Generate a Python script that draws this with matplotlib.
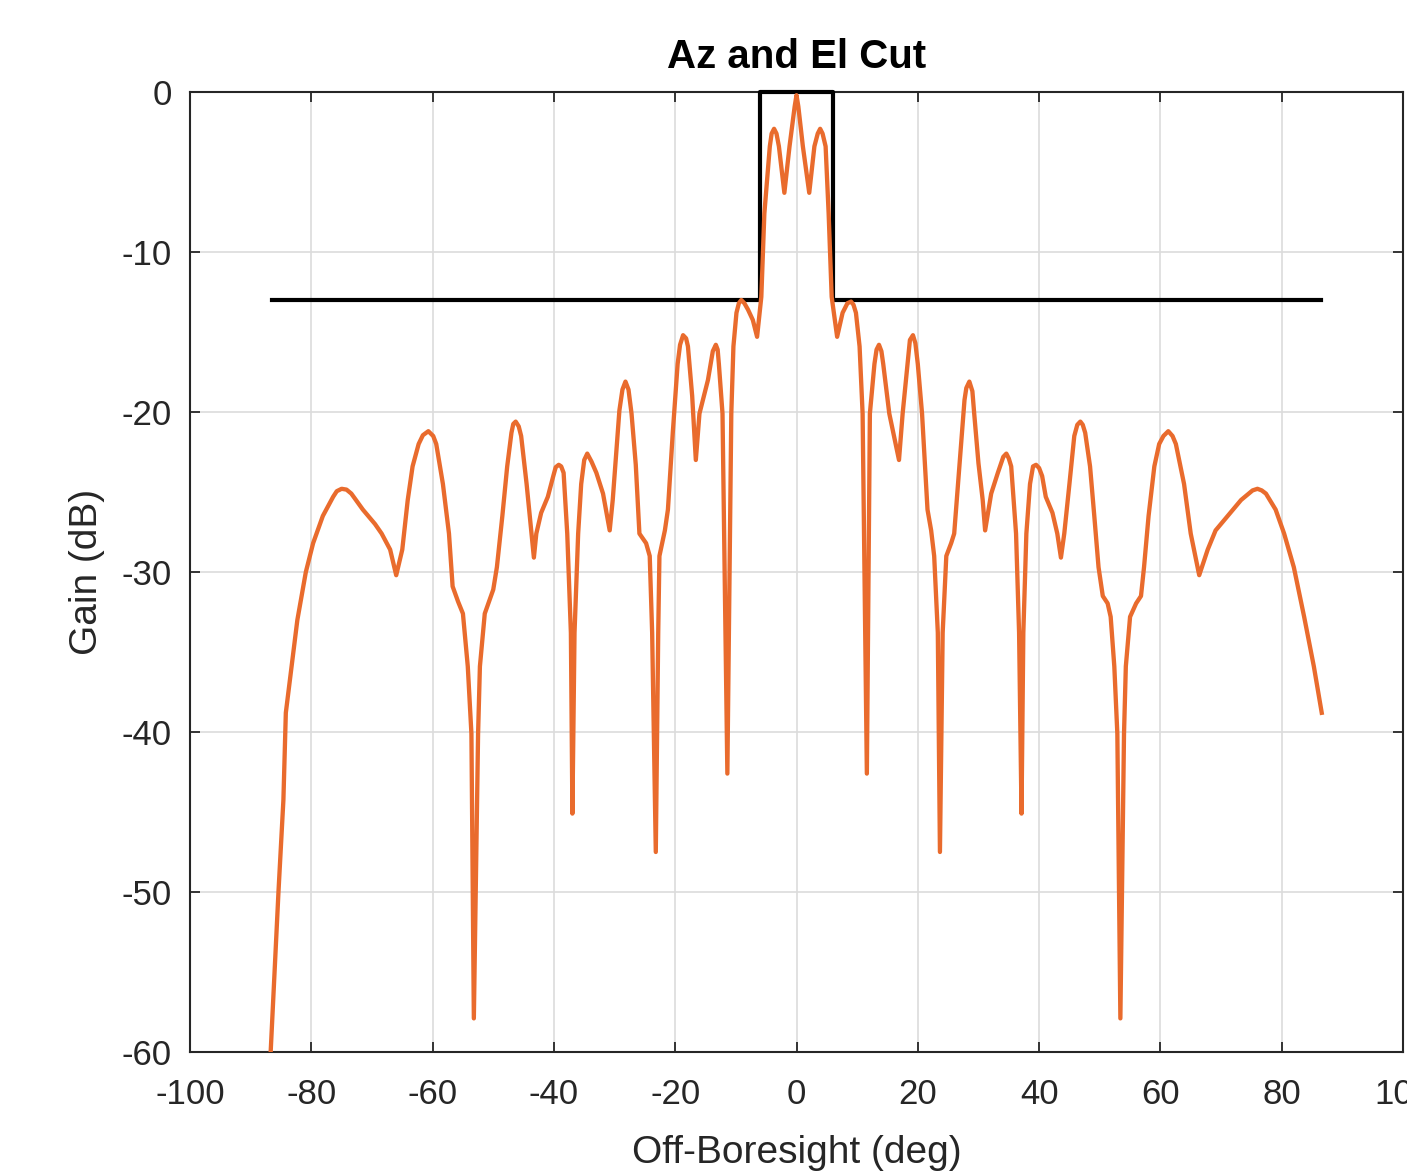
import matplotlib
matplotlib.use("Agg")
import matplotlib.pyplot as plt

# array pattern cut (deg, dB), left half then right half
ang_left = [-86.7, -85.4, -84.6, -84.2, -82.3, -80.9, -79.7, -78.1, -76.4, -75.8,
            -75.0, -74.2, -73.4, -71.5, -69.5, -68.4, -67.0, -66.0, -65.0, -64.1,
            -63.3, -62.3, -61.6, -60.7, -59.9, -59.4, -58.3, -57.3, -56.7, -55.8,
            -55.0, -54.2, -53.6, -53.2, -52.5, -52.2, -51.4, -50.6, -50.0, -49.4,
            -48.5, -47.7, -47.0, -46.7, -46.3, -45.8, -45.4, -44.5, -43.7, -43.3,
            -42.9, -42.1, -41.0, -40.1, -39.7, -39.2, -38.8, -38.4, -37.8, -37.2,
            -36.95, -36.6, -36.0, -35.5, -35.0, -34.5, -33.8, -33.0, -31.9, -30.8,
            -30.3, -29.7, -29.2, -28.7, -28.2, -27.7, -27.2, -26.5, -25.9, -24.8,
            -24.2, -23.8, -23.2, -22.8, -22.6, -21.7, -21.2, -20.4, -19.6, -19.2,
            -18.7, -18.2, -17.9, -17.2, -16.6, -16.0, -14.6, -13.8, -13.3, -13.0,
            -12.8, -12.2, -11.4, -10.75, -10.4, -9.9, -9.5, -9.1, -8.6, -8.0,
            -7.2, -6.5, -5.8, -5.3, -4.4, -4.1, -3.7, -3.3, -2.9, -2.0,
            -1.15, -0.3, 0.0]
gain_left = [-60.0, -49.9, -44.25, -38.8, -33.0, -30.0, -28.2, -26.5, -25.3, -24.95,
             -24.8, -24.85, -25.1, -26.1, -27.0, -27.6, -28.6, -30.2, -28.6, -25.5,
             -23.4, -22.0, -21.45, -21.2, -21.5, -22.0, -24.5, -27.6, -30.9, -31.85,
             -32.6, -35.9, -40.1, -57.9, -40.1, -35.9, -32.6, -31.75, -31.1, -29.7,
             -26.5, -23.4, -21.3, -20.75, -20.6, -20.9, -21.5, -24.5, -27.6, -29.1,
             -27.6, -26.3, -25.3, -24.0, -23.45, -23.3, -23.4, -23.8, -27.6, -33.8,
             -45.1, -33.8, -27.6, -24.5, -23.0, -22.6, -23.1, -23.8, -25.1, -27.4,
             -25.5, -22.4, -19.9, -18.6, -18.1, -18.6, -20.1, -23.3, -27.6, -28.2,
             -29.0, -33.8, -47.5, -33.8, -29.0, -27.4, -26.1, -21.3, -17.0, -15.8,
             -15.2, -15.4, -15.9, -19.0, -23.0, -20.1, -18.0, -16.2, -15.8, -16.1,
             -17.0, -20.1, -42.6, -20.1, -15.9, -13.8, -13.2, -13.0, -13.2, -13.6,
             -14.25, -15.3, -12.8, -7.6, -3.4, -2.6, -2.3, -2.6, -3.4, -6.3,
             -3.4, -0.9, -0.2]

ang_right = [0.3, 1.05, 2.1, 2.95, 3.5, 3.9, 4.3, 4.8, 5.3, 5.8,
             6.7, 7.6, 8.4, 9.0, 9.4, 9.8, 10.4, 10.9, 11.6, 12.1,
             12.85, 13.2, 13.6, 14.0, 14.3, 15.3, 16.9, 17.5, 18.3, 18.7,
             19.2, 19.6, 20.0, 20.7, 21.6, 22.2, 22.7, 23.3, 23.65, 24.1,
             24.7, 25.5, 26.0, 26.85, 27.7, 28.0, 28.5, 29.0, 29.3, 30.0,
             30.7, 31.1, 32.1, 33.2, 34.1, 34.6, 35.0, 35.4, 36.2, 36.7,
             37.1, 37.4, 37.9, 38.5, 39.0, 39.5, 40.0, 40.5, 41.1, 42.2,
             43.0, 43.6, 44.15, 45.0, 45.8, 46.3, 46.8, 47.2, 47.6, 48.4,
             49.1, 49.8, 50.5, 51.3, 51.8, 52.4, 52.9, 53.4, 54.0, 54.3,
             55.0, 56.0, 56.8, 57.3, 58.05, 59.0, 59.8, 60.5, 61.3, 62.0,
             62.55, 63.9, 65.0, 66.4, 67.8, 69.1, 71.1, 73.3, 75.2, 76.0,
             76.7, 77.4, 79.0, 80.4, 82.0, 83.7, 85.3, 86.6]
gain_right = [-0.9, -3.4, -6.3, -3.4, -2.6, -2.3, -2.6, -3.4, -7.6, -12.8,
              -15.3, -13.8, -13.2, -13.1, -13.3, -13.8, -15.9, -20.1, -42.6, -20.1,
              -17.0, -16.1, -15.8, -16.2, -17.0, -20.1, -23.0, -20.1, -17.0, -15.5,
              -15.2, -15.7, -17.0, -20.1, -26.1, -27.4, -29.0, -33.8, -47.5, -33.8,
              -29.0, -28.2, -27.6, -23.4, -19.25, -18.5, -18.1, -18.7, -20.1, -23.2,
              -25.5, -27.4, -25.1, -23.8, -22.8, -22.6, -22.9, -23.4, -27.6, -33.8,
              -45.1, -33.8, -27.6, -24.5, -23.4, -23.3, -23.5, -24.0, -25.3, -26.3,
              -27.6, -29.1, -27.6, -24.5, -21.5, -20.8, -20.6, -20.8, -21.3, -23.4,
              -26.5, -29.7, -31.5, -31.96, -32.8, -35.9, -40.1, -57.9, -40.1, -35.9,
              -32.8, -31.96, -31.5, -29.7, -26.5, -23.4, -22.0, -21.5, -21.2, -21.5,
              -22.0, -24.5, -27.6, -30.2, -28.6, -27.4, -26.5, -25.5, -24.9, -24.8,
              -24.9, -25.1, -26.1, -27.6, -29.7, -32.8, -35.9, -38.8]

# sidelobe mask
mask_ang = [-86.4, -6.1, -6.1, 6.1, 6.1, 86.4]
mask_gain = [-13, -13, 0, 0, -13, -13]

xticks = list(range(-100, 101, 20))
yticks = list(range(-60, 1, 10))

plt.rcParams['font.family'] = ['Liberation Sans', 'DejaVu Sans']
plt.rcParams['axes.unicode_minus'] = False
axcol = '#262626'

fig = plt.figure(figsize=(14.07, 11.72), dpi=100)
ax = fig.add_axes([190/1407, 1 - 1052/1172, (1403-190)/1407, (1052-92)/1172])

ax.plot(mask_ang, mask_gain, color='black', lw=3.0, clip_on=False, zorder=3)
ax.plot(ang_left + ang_right, gain_left + gain_right, color='#e96b2d', lw=3.1,
        solid_joinstyle='round', zorder=4)

ax.set_xlim(-100, 100)
ax.set_ylim(-60, 0)
ax.set_xticks(xticks)
ax.set_yticks(yticks)
ax.grid(True, color='#dcdcdc', lw=1.2)
ax.set_axisbelow(True)
ax.tick_params(direction='in', length=7, width=1.3, colors=axcol,
               top=True, right=True, labelsize=25)
ax.tick_params(axis='x', pad=19)
ax.tick_params(axis='y', pad=13)
for s in ax.spines.values():
    s.set_color(axcol)
    s.set_linewidth(1.5)

ax.set_title('Az and El Cut', fontsize=29, fontweight='bold', color='black', pad=17)
ax.set_xlabel('Off-Boresight (deg)', fontsize=28, color=axcol, labelpad=17)
ax.set_ylabel('Gain (dB)', fontsize=28, color=axcol, labelpad=12)

fig.savefig('out.png', dpi=100)
